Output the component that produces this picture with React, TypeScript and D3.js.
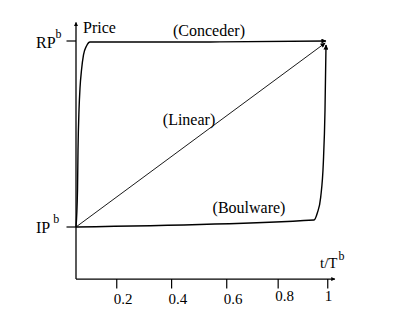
import React from "react";
import * as d3 from "d3";

// ---- data (t = time fraction, p = normalised price: 0 = IP, 1 = RP) ----
const tickValues = [0.2, 0.408, 0.617, 0.812, 1];
const tickLabels = ["0.2", "0.4", "0.6", "0.8", "1"];

const concederT = [0.0455, 0.0512, 0.0531, 0.0569, 0.0607, 0.0664, 0.0739, 0.0853, 0.0986, 0.5536, 0.993];
const concederP = [0, 0.199, 0.414, 0.629, 0.747, 0.844, 0.925, 0.973, 0.995, 0.995, 1.0];

const boulwareT = [0.0455, 0.9479, 0.9604, 0.9733, 0.9832, 0.9896, 0.9934];
const boulwareP = [0, 0.0376, 0.075, 0.161, 0.344, 0.629, 0.978];

const linearT = [0.0455, 0.99];
const linearP = [0, 0.989];

const axisOriginT = 0.0455;
const axisOriginP = -0.28;
const axisEndT = 1.027;
const axisEndP = 1.1;

const W = 406;
const H = 326;
const FONT = "'Liberation Serif', 'DejaVu Serif', serif";

export default function App() {
  const x = d3.scaleLinear().domain([0, 1]).range([64, 327.75]);
  const y = d3.scaleLinear().domain([0, 1]).range([227, 41]);

  const toPts = (ts: number[], ps: number[]) => ts.map((t, i) => [t, ps[i]] as [number, number]);

  const smooth = d3
    .line<[number, number]>()
    .x((d) => x(d[0]))
    .y((d) => y(d[1]))
    .curve(d3.curveMonotoneX);
  const straight = d3
    .line<[number, number]>()
    .x((d) => x(d[0]))
    .y((d) => y(d[1]));

  const ox = x(axisOriginT);
  const oy = y(axisOriginP);
  const labelShift = [0, 0, 0, -3, -3];

  return (
    <svg
      width={W}
      height={H}
      style={{ position: "absolute", left: 0, top: 0, background: "#fff" }}
      fontFamily={FONT}
    >
      <defs>
        <marker id="ah" viewBox="0 0 10 10" refX="9" refY="5" markerWidth="8" markerHeight="5" markerUnits="userSpaceOnUse" orient="auto">
          <path d="M0,0 L10,5 L0,10 z" fill="#000" />
        </marker>
        <marker id="axh" viewBox="0 0 10 10" refX="9" refY="5" markerWidth="5" markerHeight="4" markerUnits="userSpaceOnUse" orient="auto">
          <path d="M0,0 L10,5 L0,10 z" fill="#000" />
        </marker>
      </defs>
      <rect width={W} height={H} fill="#fff" />

      {/* axes */}
      <line x1={ox} y1={oy} x2={ox} y2={y(axisEndP)} stroke="#000" strokeWidth={1.3} markerEnd="url(#axh)" />
      <line x1={ox} y1={oy} x2={x(axisEndT)} y2={oy} stroke="#000" strokeWidth={1.3} markerEnd="url(#axh)" />

      {/* x ticks */}
      {tickValues.map((t, i) => (
        <g key={i}>
          <line x1={x(t)} y1={oy} x2={x(t)} y2={oy + 9.5} stroke="#000" strokeWidth={1.2} />
          <text x={x(t) - 3} y={304 + labelShift[i]} fontSize={15} textAnchor="start">
            {tickLabels[i]}
          </text>
        </g>
      ))}

      {/* y ticks */}
      <line x1={ox - 9.5} y1={y(1)} x2={ox} y2={y(1)} stroke="#000" strokeWidth={1.2} />
      <line x1={ox - 9.5} y1={y(0)} x2={ox} y2={y(0)} stroke="#000" strokeWidth={1.2} />
      <text x={36} y={48} fontSize={16}>
        RP<tspan dx={0} dy={-10} fontSize={12}>b</tspan>
      </text>
      <text x={36} y={233} fontSize={16}>
        IP<tspan dx={3} dy={-10} fontSize={12}>b</tspan>
      </text>

      {/* axis titles */}
      <text x={83} y={33} fontSize={16}>Price</text>
      <text x={320} y={268} fontSize={15}>
        t/T<tspan dx={1} dy={-8} fontSize={12}>b</tspan>
      </text>

      {/* curves */}
      <path d={straight(toPts(linearT, linearP)) || ""} fill="none" stroke="#000" strokeWidth={0.9} markerEnd="url(#ah)" />
      <path d={smooth(toPts(concederT, concederP)) || ""} fill="none" stroke="#000" strokeWidth={1.4} markerEnd="url(#ah)" />
      <path d={smooth(toPts(boulwareT, boulwareP)) || ""} fill="none" stroke="#000" strokeWidth={1.4} markerEnd="url(#ah)" />

      {/* curve labels */}
      <text x={209} y={36} fontSize={16} textAnchor="middle">(Conceder)</text>
      <text x={189} y={125} fontSize={16} textAnchor="middle">(Linear)</text>
      <text x={249} y={213} fontSize={16} textAnchor="middle">(Boulware)</text>
    </svg>
  );
}
